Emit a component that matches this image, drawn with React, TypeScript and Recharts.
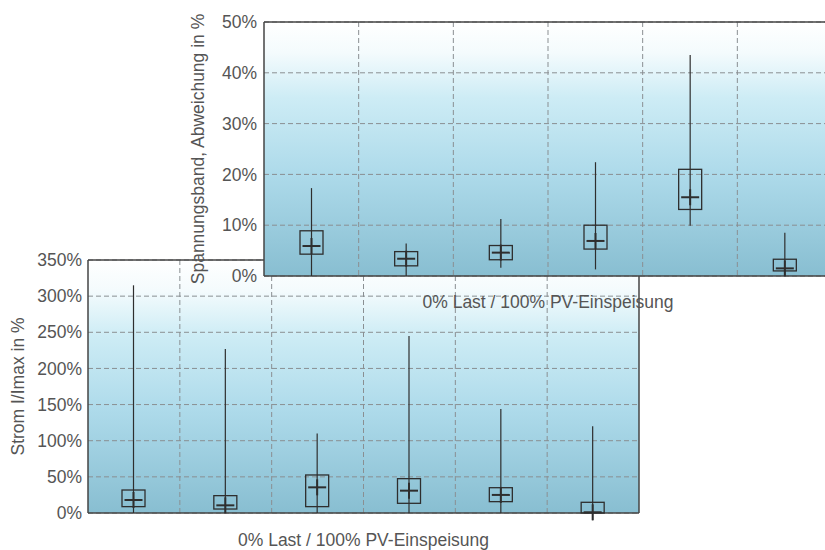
import { Bar, CartesianGrid, ComposedChart, XAxis, YAxis } from "recharts";

const categories = ["1", "2", "3", "4", "5", "6"];

// Spannungsband, Abweichung in %
const voltMin = [0, 0, 1.6, 1.3, 9.9, 0];
const voltQ1 = [4.3, 2.0, 3.2, 5.3, 13.1, 1.0];
const voltMedian = [5.9, 3.4, 4.6, 6.9, 15.5, 1.5];
const voltQ3 = [8.9, 4.8, 6.0, 10.0, 21.0, 3.3];
const voltMax = [17.3, 6.4, 11.2, 22.4, 43.5, 8.5];
const voltTicks = [0, 10, 20, 30, 40, 50];

// Strom I/Imax in %
const currMin = [0, 0, 0, 0, 0, -10];
const currQ1 = [8.8, 5.5, 8.8, 13.4, 15.7, 0];
const currMedian = [18, 10.6, 35.5, 30.9, 25, 1];
const currQ3 = [31.8, 24, 52.6, 47.5, 35, 14.8];
const currMax = [315, 227, 110, 245, 144, 120];
const currTicks = [0, 50, 100, 150, 200, 250, 300, 350];

const xTitle = "0% Last / 100% PV-Einspeisung";

const FONT = "'Liberation Sans', Arial, Helvetica, sans-serif";
const TEXT = "#555";
const INK = "#2e2e2e";

type Row = { name: string; min: number; q1: number; median: number; q3: number; max: number };

const buildRows = (mins: number[], q1s: number[], meds: number[], q3s: number[], maxs: number[]): Row[] =>
  categories.map((name, i) => ({
    name,
    min: mins[i],
    q1: q1s[i],
    median: meds[i],
    q3: q3s[i],
    max: maxs[i],
  }));

const voltRows = buildRows(voltMin, voltQ1, voltMedian, voltQ3, voltMax);
const currRows = buildRows(currMin, currQ1, currMedian, currQ3, currMax);

// bar spans q1..max; the rest is placed on the same linear scale
const BoxShape = (props: any) => {
  const { x, y, width, height } = props;
  const d: Row = props.payload ?? props;
  const top = Math.min(y, y + height);
  const bottom = Math.max(y, y + height);
  const k = (bottom - top) / (d.max - d.q1);
  const toY = (v: number) => bottom - (v - d.q1) * k;
  const cx = x + width / 2;
  const ym = toY(d.median);
  return (
    <g>
      <line x1={cx} x2={cx} y1={toY(d.max)} y2={toY(d.min)} stroke={INK} strokeWidth={1.2} />
      <rect
        x={x}
        y={toY(d.q3)}
        width={width}
        height={toY(d.q1) - toY(d.q3)}
        fill="none"
        stroke={INK}
        strokeWidth={1.3}
      />
      <line x1={cx - 9} x2={cx + 9} y1={ym} y2={ym} stroke={INK} strokeWidth={2} />
      <line x1={cx} x2={cx} y1={ym - 8} y2={ym + 8} stroke={INK} strokeWidth={2} />
    </g>
  );
};

const boundaryLines = ({ offset }: any) =>
  categories.slice(1).map((_, i) => offset.left + ((i + 1) * offset.width) / categories.length);

const frameH = ({ offset }: any) => [offset.top, offset.top + offset.height];
const frameV = ({ offset }: any) => [offset.left, offset.left + offset.width];

const Gradient = ({ id }: { id: string }) => (
  <defs>
    <linearGradient id={id} x1="0" y1="0" x2="0" y2="1">
      <stop offset="0%" stopColor="#ffffff" />
      <stop offset="12%" stopColor="#f4fbfd" />
      <stop offset="30%" stopColor="#cdecf5" />
      <stop offset="60%" stopColor="#addaea" />
      <stop offset="100%" stopColor="#88bed1" />
    </linearGradient>
  </defs>
);

type PanelProps = {
  rows: Row[];
  ticks: number[];
  yTitle: string;
  gradId: string;
  width: number;
  height: number;
  margin: { top: number; right: number; bottom: number; left: number };
  yAxisWidth: number;
  yTitleOffset: number;
  tickSize: number;
  xAxisHeight: number;
  xTitleOffset: number;
  barSize: number;
};

function Panel(p: PanelProps) {
  return (
    <ComposedChart width={p.width} height={p.height} data={p.rows} margin={p.margin}>
      <Gradient id={p.gradId} />
      <CartesianGrid
        fill={`url(#${p.gradId})`}
        stroke="#8a8f92"
        strokeDasharray="5 3"
        verticalCoordinatesGenerator={boundaryLines}
      />
      <CartesianGrid
        stroke="#444"
        strokeWidth={1.5}
        horizontalCoordinatesGenerator={frameH}
        verticalCoordinatesGenerator={frameV}
      />
      <XAxis
        dataKey="name"
        tick={false}
        tickLine={false}
        axisLine={false}
        height={p.xAxisHeight}
        label={{
          value: xTitle,
          position: "insideBottom",
          offset: p.xTitleOffset,
          fill: TEXT,
          fontSize: 17.5,
          fontFamily: FONT,
        }}
      />
      <YAxis
        type="number"
        domain={[p.ticks[0], p.ticks[p.ticks.length - 1]]}
        ticks={p.ticks}
        interval={0}
        tickFormatter={(v: number) => `${v}%`}
        tick={{ fill: TEXT, fontSize: 17.5, fontFamily: FONT }}
        tickLine={false}
        axisLine={false}
        tickSize={p.tickSize}
        tickMargin={2}
        width={p.yAxisWidth}
        label={{
          value: p.yTitle,
          angle: -90,
          position: "insideLeft",
          offset: p.yTitleOffset,
          fill: TEXT,
          fontSize: 17.5,
          fontFamily: FONT,
          style: { textAnchor: "middle" },
        }}
      />
      <Bar
        dataKey={(d: Row) => [d.q1, d.max]}
        barSize={p.barSize}
        shape={<BoxShape />}
        isAnimationActive={false}
      />
    </ComposedChart>
  );
}

export default function App() {
  return (
    <div
      style={{
        position: "fixed",
        left: 0,
        top: 0,
        width: 825,
        height: 550,
        overflow: "hidden",
        background: "#ffffff",
      }}
    >
      <div style={{ position: "absolute", left: 0, top: 0 }}>
        <Panel
          rows={currRows}
          ticks={currTicks}
          yTitle="Strom I/Imax in %"
          gradId="gradCurrent"
          width={825}
          height={550}
          margin={{ top: 260, right: 186, bottom: 1, left: 8 }}
          yAxisWidth={80}
          yTitleOffset={10}
          tickSize={4}
          xAxisHeight={36}
          xTitleOffset={3}
          barSize={23}
        />
      </div>
      <div style={{ position: "absolute", left: 0, top: 0 }}>
        <Panel
          rows={voltRows}
          ticks={voltTicks}
          yTitle="Spannungsband, Abweichung in %"
          gradId="gradVoltage"
          width={850}
          height={320}
          margin={{ top: 22, right: 18, bottom: 0, left: 194 }}
          yAxisWidth={70}
          yTitleOffset={4}
          tickSize={5}
          xAxisHeight={44}
          xTitleOffset={12}
          barSize={23}
        />
      </div>
    </div>
  );
}
